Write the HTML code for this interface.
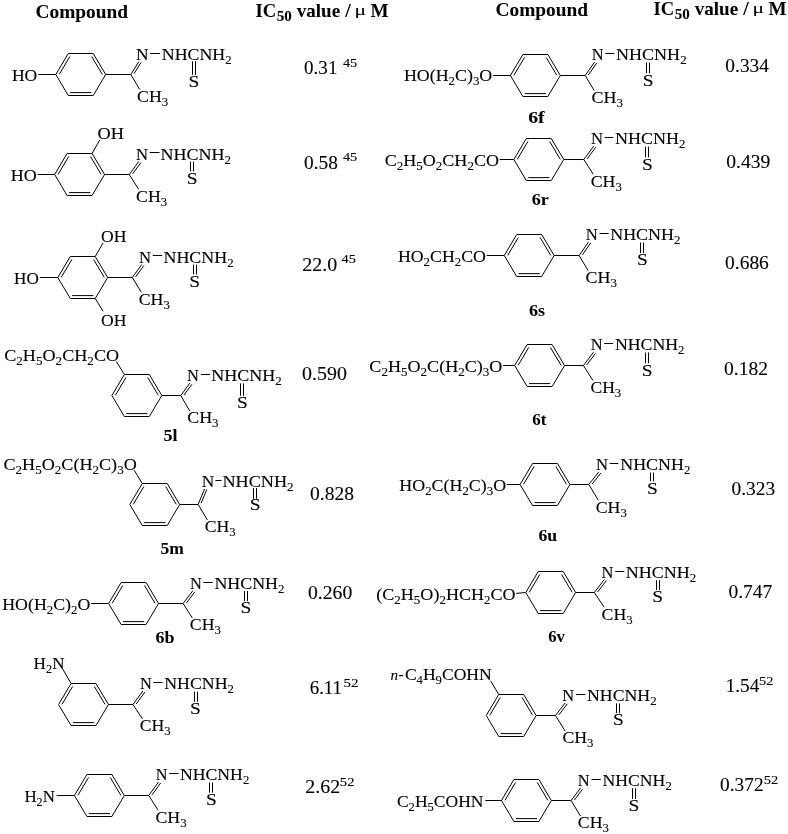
<!DOCTYPE html>
<html lang="en"><head><meta charset="utf-8"><title>IC50 table</title>
<style>
html,body{margin:0;padding:0;background:#fff}
svg{display:block;will-change:transform;opacity:0.999}
svg text{font-family:"Liberation Serif","DejaVu Serif",serif;fill:#000;white-space:pre;stroke:#000;stroke-width:0.12px;stroke-linejoin:round}
svg text[font-weight=bold]{stroke-width:0.05px}
svg line,svg polygon{stroke:#000;stroke-width:1.0;fill:none;stroke-linecap:butt;stroke-linejoin:miter}
</style></head><body>
<svg width="788" height="834" viewBox="0 0 788 834">
<text transform="translate(35.55,18.30) scale(1.0192,1)" font-size="19.00" font-weight="bold">Compound</text>
<text transform="translate(495.55,15.70) scale(1.0192,1)" font-size="19.00" font-weight="bold">Compound</text>
<text transform="translate(255.47,17.00) scale(0.9801,1)" font-size="19.00" font-weight="bold">IC</text>
<text transform="translate(276.70,21.40) scale(1.0770,1)" font-size="14.00" font-weight="bold">50</text>
<text transform="translate(296.70,17.00) scale(1.0050,1)" font-size="19.00" font-weight="bold">value</text>
<text transform="translate(345.19,17.00) scale(1.0426,1)" font-size="19.00" font-weight="bold">/</text>
<text transform="translate(354.46,15.00) scale(1.4824,1)" font-size="14.50">μ</text>
<text transform="translate(370.57,17.00) scale(1.0081,1)" font-size="19.00" font-weight="bold">M</text>
<text transform="translate(653.47,14.80) scale(0.9801,1)" font-size="19.00" font-weight="bold">IC</text>
<text transform="translate(674.70,19.20) scale(1.0770,1)" font-size="14.00" font-weight="bold">50</text>
<text transform="translate(694.70,14.80) scale(1.0050,1)" font-size="19.00" font-weight="bold">value</text>
<text transform="translate(743.19,14.80) scale(1.0426,1)" font-size="19.00" font-weight="bold">/</text>
<text transform="translate(752.46,12.80) scale(1.4824,1)" font-size="14.50">μ</text>
<text transform="translate(768.57,14.80) scale(1.0081,1)" font-size="19.00" font-weight="bold">M</text>
<polygon points="55.80,74.50 68.28,53.50 93.22,53.50 105.70,74.50 93.22,95.50 68.28,95.50"/>
<line x1="59.26" y1="74.34" x2="69.87" y2="56.49"/>
<line x1="91.63" y1="56.49" x2="102.24" y2="74.34"/>
<line x1="91.35" y1="92.60" x2="70.15" y2="92.60"/>
<line x1="105.70" y1="74.50" x2="130.80" y2="74.50"/>
<line x1="130.80" y1="74.50" x2="138.90" y2="61.60"/>
<line x1="134.02" y1="73.69" x2="141.01" y2="62.57"/>
<text transform="translate(136.00,59.60) scale(1.0147,1)" font-size="17.20">N</text>
<line x1="150.10" y1="53.50" x2="160.00" y2="53.50"/>
<text transform="translate(161.79,59.60) scale(1.0367,1)" font-size="17.20">NHCNH<tspan dy="4.04" font-size="12.38">2</tspan></text>
<line x1="192.50" y1="61.30" x2="192.50" y2="74.90"/>
<line x1="195.50" y1="61.30" x2="195.50" y2="74.90"/>
<text transform="translate(188.40,87.20) scale(1.1295,1)" font-size="17.20">S</text>
<line x1="130.80" y1="74.50" x2="139.70" y2="89.50"/>
<text transform="translate(137.07,101.80) scale(1.0313,1)" font-size="17.20">CH<tspan dy="4.04" font-size="12.38">3</tspan></text>
<text transform="translate(11.89,80.90) scale(1.0236,1)" font-size="17.20">HO</text>
<line x1="38.30" y1="74.50" x2="55.80" y2="74.50"/>
<polygon points="54.65,174.50 67.12,153.50 92.07,153.50 104.55,174.50 92.07,195.50 67.12,195.50"/>
<line x1="58.11" y1="174.34" x2="68.72" y2="156.49"/>
<line x1="90.48" y1="156.49" x2="101.09" y2="174.34"/>
<line x1="90.20" y1="192.60" x2="69.00" y2="192.60"/>
<line x1="104.55" y1="174.50" x2="129.30" y2="174.50"/>
<line x1="129.30" y1="174.50" x2="138.80" y2="161.50"/>
<line x1="132.57" y1="173.92" x2="140.83" y2="162.61"/>
<text transform="translate(135.92,159.50) scale(0.9713,1)" font-size="17.20">N</text>
<line x1="149.70" y1="152.50" x2="159.50" y2="152.50"/>
<text transform="translate(160.38,159.50) scale(1.0473,1)" font-size="17.20">NHCNH<tspan dy="4.04" font-size="12.38">2</tspan></text>
<line x1="190.50" y1="161.60" x2="190.50" y2="171.40"/>
<line x1="193.50" y1="161.60" x2="193.50" y2="171.40"/>
<text transform="translate(186.85,183.90) scale(1.1295,1)" font-size="17.20">S</text>
<line x1="129.30" y1="174.50" x2="138.70" y2="189.30"/>
<text transform="translate(136.07,201.60) scale(1.0313,1)" font-size="17.20">CH<tspan dy="4.04" font-size="12.38">3</tspan></text>
<text transform="translate(10.68,181.40) scale(1.0490,1)" font-size="17.20">HO</text>
<line x1="37.60" y1="174.50" x2="54.65" y2="174.50"/>
<line x1="92.07" y1="153.50" x2="99.80" y2="139.90"/>
<text transform="translate(97.45,139.00) scale(1.0663,1)" font-size="17.20">OH</text>
<polygon points="57.80,277.50 70.28,256.50 95.22,256.50 107.70,277.50 95.22,298.50 70.28,298.50"/>
<line x1="61.26" y1="277.34" x2="71.87" y2="259.49"/>
<line x1="93.63" y1="259.49" x2="104.24" y2="277.34"/>
<line x1="93.35" y1="295.60" x2="72.15" y2="295.60"/>
<line x1="107.70" y1="277.50" x2="132.30" y2="277.50"/>
<line x1="132.30" y1="277.50" x2="141.80" y2="264.50"/>
<line x1="135.57" y1="276.92" x2="143.83" y2="265.61"/>
<text transform="translate(138.92,262.50) scale(0.9713,1)" font-size="17.20">N</text>
<line x1="152.80" y1="255.50" x2="162.20" y2="255.50"/>
<text transform="translate(163.48,262.50) scale(1.0412,1)" font-size="17.20">NHCNH<tspan dy="4.04" font-size="12.38">2</tspan></text>
<line x1="193.50" y1="264.60" x2="193.50" y2="274.40"/>
<line x1="196.50" y1="264.60" x2="196.50" y2="274.40"/>
<text transform="translate(189.35,286.90) scale(1.1295,1)" font-size="17.20">S</text>
<line x1="132.30" y1="277.50" x2="141.30" y2="292.30"/>
<text transform="translate(138.67,304.60) scale(1.0347,1)" font-size="17.20">CH<tspan dy="4.04" font-size="12.38">3</tspan></text>
<text transform="translate(14.01,284.20) scale(0.9982,1)" font-size="17.20">HO</text>
<line x1="39.90" y1="277.50" x2="57.80" y2="277.50"/>
<line x1="95.22" y1="256.50" x2="103.10" y2="242.90"/>
<text transform="translate(100.98,242.10) scale(1.0240,1)" font-size="17.20">OH</text>
<line x1="95.22" y1="298.50" x2="103.10" y2="311.30"/>
<text transform="translate(100.98,325.90) scale(1.0240,1)" font-size="17.20">OH</text>
<polygon points="111.90,395.50 124.38,374.50 149.32,374.50 161.80,395.50 149.32,416.50 124.38,416.50"/>
<line x1="115.36" y1="395.34" x2="125.97" y2="377.49"/>
<line x1="147.73" y1="377.49" x2="158.34" y2="395.34"/>
<line x1="147.45" y1="413.60" x2="126.25" y2="413.60"/>
<line x1="161.80" y1="395.50" x2="180.80" y2="395.50"/>
<line x1="180.80" y1="395.50" x2="189.90" y2="383.10"/>
<line x1="184.07" y1="394.93" x2="191.93" y2="384.22"/>
<text transform="translate(187.03,381.10) scale(0.9539,1)" font-size="17.20">N</text>
<line x1="200.80" y1="374.50" x2="210.10" y2="374.50"/>
<text transform="translate(211.33,381.10) scale(1.0465,1)" font-size="17.20">NHCNH<tspan dy="4.04" font-size="12.38">2</tspan></text>
<line x1="240.50" y1="383.40" x2="240.50" y2="395.80"/>
<line x1="243.50" y1="383.40" x2="243.50" y2="395.80"/>
<text transform="translate(237.05,408.00) scale(1.1295,1)" font-size="17.20">S</text>
<line x1="180.80" y1="395.50" x2="189.80" y2="411.10"/>
<text transform="translate(187.16,423.40) scale(1.0451,1)" font-size="17.20">CH<tspan dy="4.04" font-size="12.38">3</tspan></text>
<line x1="124.38" y1="374.50" x2="116.40" y2="361.60"/>
<text transform="translate(4.21,360.70) scale(1.0558,1)" font-size="17.20">C<tspan dy="4.04" font-size="12.38">2</tspan><tspan dy="-4.04">H</tspan><tspan dy="4.04" font-size="12.38">5</tspan><tspan dy="-4.04">O</tspan><tspan dy="4.04" font-size="12.38">2</tspan><tspan dy="-4.04">CH</tspan><tspan dy="4.04" font-size="12.38">2</tspan><tspan dy="-4.04">CO</tspan></text>
<text transform="translate(163.38,441.20) scale(1.0191,1)" font-size="17.70" font-weight="bold">5l</text>
<polygon points="129.80,504.50 142.28,483.50 167.22,483.50 179.70,504.50 167.22,525.50 142.28,525.50"/>
<line x1="133.26" y1="504.34" x2="143.87" y2="486.49"/>
<line x1="165.63" y1="486.49" x2="176.24" y2="504.34"/>
<line x1="165.35" y1="522.60" x2="144.15" y2="522.60"/>
<line x1="179.70" y1="504.50" x2="198.10" y2="504.50"/>
<line x1="198.10" y1="504.50" x2="204.60" y2="488.90"/>
<line x1="201.15" y1="503.17" x2="206.84" y2="489.51"/>
<text transform="translate(201.70,486.90) scale(1.0060,1)" font-size="17.20">N</text>
<line x1="215.40" y1="480.50" x2="221.50" y2="480.50"/>
<text transform="translate(222.38,486.90) scale(1.0594,1)" font-size="17.20">NHCNH<tspan dy="4.04" font-size="12.38">2</tspan></text>
<line x1="253.50" y1="488.10" x2="253.50" y2="498.80"/>
<line x1="256.50" y1="488.10" x2="256.50" y2="498.80"/>
<text transform="translate(249.75,510.40) scale(1.1295,1)" font-size="17.20">S</text>
<line x1="198.10" y1="504.50" x2="207.40" y2="520.00"/>
<text transform="translate(204.77,532.30) scale(1.0278,1)" font-size="17.20">CH<tspan dy="4.04" font-size="12.38">3</tspan></text>
<line x1="142.28" y1="483.50" x2="134.20" y2="470.20"/>
<text transform="translate(3.46,469.50) scale(1.0535,1)" font-size="17.20">C<tspan dy="4.04" font-size="12.38">2</tspan><tspan dy="-4.04">H</tspan><tspan dy="4.04" font-size="12.38">5</tspan><tspan dy="-4.04">O</tspan><tspan dy="4.04" font-size="12.38">2</tspan><tspan dy="-4.04">C(H</tspan><tspan dy="4.04" font-size="12.38">2</tspan><tspan dy="-4.04">C)</tspan><tspan dy="4.04" font-size="12.38">3</tspan><tspan dy="-4.04">O</tspan></text>
<text transform="translate(160.40,554.00) scale(0.9919,1)" font-size="17.70" font-weight="bold">5m</text>
<polygon points="108.65,603.50 121.12,582.50 146.07,582.50 158.55,603.50 146.07,624.50 121.12,624.50"/>
<line x1="112.11" y1="603.34" x2="122.72" y2="585.49"/>
<line x1="144.48" y1="585.49" x2="155.09" y2="603.34"/>
<line x1="144.20" y1="621.60" x2="123.00" y2="621.60"/>
<line x1="158.55" y1="603.50" x2="183.10" y2="603.50"/>
<line x1="183.10" y1="603.50" x2="192.90" y2="590.65"/>
<line x1="186.38" y1="602.99" x2="194.91" y2="591.81"/>
<text transform="translate(190.03,588.65) scale(0.9539,1)" font-size="17.20">N</text>
<line x1="203.30" y1="582.50" x2="212.70" y2="582.50"/>
<text transform="translate(214.38,588.65) scale(1.0412,1)" font-size="17.20">NHCNH<tspan dy="4.04" font-size="12.38">2</tspan></text>
<line x1="244.50" y1="591.00" x2="244.50" y2="601.10"/>
<line x1="247.50" y1="591.00" x2="247.50" y2="601.10"/>
<text transform="translate(240.60,613.20) scale(1.1295,1)" font-size="17.20">S</text>
<line x1="183.10" y1="603.50" x2="192.40" y2="618.10"/>
<text transform="translate(189.77,630.40) scale(1.0347,1)" font-size="17.20">CH<tspan dy="4.04" font-size="12.38">3</tspan></text>
<text transform="translate(2.19,610.00) scale(1.0370,1)" font-size="17.20">HO(H<tspan dy="4.04" font-size="12.38">2</tspan><tspan dy="-4.04">C)</tspan><tspan dy="4.04" font-size="12.38">2</tspan><tspan dy="-4.04">O</tspan></text>
<line x1="90.90" y1="603.50" x2="108.65" y2="603.50"/>
<text transform="translate(155.48,642.50) scale(1.0189,1)" font-size="17.70" font-weight="bold">6b</text>
<polygon points="58.55,704.50 71.03,683.50 95.97,683.50 108.45,704.50 95.97,725.50 71.03,725.50"/>
<line x1="62.01" y1="704.34" x2="72.62" y2="686.49"/>
<line x1="94.38" y1="686.49" x2="104.99" y2="704.34"/>
<line x1="94.10" y1="722.60" x2="72.90" y2="722.60"/>
<line x1="108.45" y1="704.50" x2="132.90" y2="704.50"/>
<line x1="132.90" y1="704.50" x2="142.90" y2="691.00"/>
<line x1="136.18" y1="703.94" x2="144.93" y2="692.13"/>
<text transform="translate(140.03,689.00) scale(0.9539,1)" font-size="17.20">N</text>
<line x1="153.30" y1="682.50" x2="162.50" y2="682.50"/>
<text transform="translate(164.29,689.00) scale(1.0337,1)" font-size="17.20">NHCNH<tspan dy="4.04" font-size="12.38">2</tspan></text>
<line x1="194.50" y1="691.60" x2="194.50" y2="701.80"/>
<line x1="197.50" y1="691.60" x2="197.50" y2="701.80"/>
<text transform="translate(190.05,713.85) scale(1.1295,1)" font-size="17.20">S</text>
<line x1="132.90" y1="704.50" x2="142.40" y2="718.80"/>
<text transform="translate(139.77,731.10) scale(1.0278,1)" font-size="17.20">CH<tspan dy="4.04" font-size="12.38">3</tspan></text>
<line x1="71.03" y1="683.50" x2="62.70" y2="668.90"/>
<text transform="translate(33.61,668.70) scale(0.9952,1)" font-size="17.20">H<tspan dy="4.04" font-size="12.38">2</tspan><tspan dy="-4.04">N</tspan></text>
<polygon points="74.45,795.50 86.93,774.50 111.88,774.50 124.35,795.50 111.88,816.50 86.93,816.50"/>
<line x1="77.91" y1="795.34" x2="88.52" y2="777.49"/>
<line x1="110.28" y1="777.49" x2="120.89" y2="795.34"/>
<line x1="110.00" y1="813.60" x2="88.80" y2="813.60"/>
<line x1="124.35" y1="795.50" x2="148.75" y2="795.50"/>
<line x1="148.75" y1="795.50" x2="158.60" y2="781.90"/>
<line x1="152.02" y1="794.91" x2="160.64" y2="783.01"/>
<text transform="translate(155.73,779.90) scale(0.9409,1)" font-size="17.20">N</text>
<line x1="169.20" y1="773.50" x2="178.60" y2="773.50"/>
<text transform="translate(179.89,779.90) scale(1.0307,1)" font-size="17.20">NHCNH<tspan dy="4.04" font-size="12.38">2</tspan></text>
<line x1="209.50" y1="782.50" x2="209.50" y2="792.70"/>
<line x1="212.50" y1="782.50" x2="212.50" y2="792.70"/>
<text transform="translate(205.95,804.70) scale(1.1295,1)" font-size="17.20">S</text>
<line x1="148.75" y1="795.50" x2="158.10" y2="810.20"/>
<text transform="translate(155.47,822.50) scale(1.0347,1)" font-size="17.20">CH<tspan dy="4.04" font-size="12.38">3</tspan></text>
<text transform="translate(24.41,801.80) scale(0.9819,1)" font-size="17.20">H<tspan dy="4.04" font-size="12.38">2</tspan><tspan dy="-4.04">N</tspan></text>
<line x1="56.60" y1="795.50" x2="74.45" y2="795.50"/>
<polygon points="510.40,75.50 522.88,54.50 547.83,54.50 560.30,75.50 547.83,96.50 522.88,96.50"/>
<line x1="513.86" y1="75.34" x2="524.47" y2="57.49"/>
<line x1="546.23" y1="57.49" x2="556.84" y2="75.34"/>
<line x1="545.95" y1="93.60" x2="524.75" y2="93.60"/>
<line x1="560.30" y1="75.50" x2="585.20" y2="75.50"/>
<line x1="585.20" y1="75.50" x2="594.70" y2="61.90"/>
<line x1="588.46" y1="74.85" x2="596.76" y2="62.97"/>
<text transform="translate(591.83,59.90) scale(0.9539,1)" font-size="17.20">N</text>
<line x1="605.40" y1="53.50" x2="614.50" y2="53.50"/>
<text transform="translate(616.08,59.90) scale(1.0473,1)" font-size="17.20">NHCNH<tspan dy="4.04" font-size="12.38">2</tspan></text>
<line x1="646.50" y1="62.50" x2="646.50" y2="73.20"/>
<line x1="649.50" y1="62.50" x2="649.50" y2="73.20"/>
<text transform="translate(642.85,85.60) scale(1.1295,1)" font-size="17.20">S</text>
<line x1="585.20" y1="75.50" x2="594.20" y2="90.60"/>
<text transform="translate(591.56,102.90) scale(1.0451,1)" font-size="17.20">CH<tspan dy="4.04" font-size="12.38">3</tspan></text>
<text transform="translate(403.88,81.40) scale(1.0394,1)" font-size="17.20">HO(H<tspan dy="4.04" font-size="12.38">2</tspan><tspan dy="-4.04">C)</tspan><tspan dy="4.04" font-size="12.38">3</tspan><tspan dy="-4.04">O</tspan></text>
<line x1="493.00" y1="75.50" x2="510.40" y2="75.50"/>
<text transform="translate(528.22,123.40) scale(1.1179,1)" font-size="17.70" font-weight="bold">6f</text>
<polygon points="513.85,159.50 526.32,138.50 551.27,138.50 563.75,159.50 551.27,180.50 526.32,180.50"/>
<line x1="517.31" y1="159.34" x2="527.92" y2="141.49"/>
<line x1="549.68" y1="141.49" x2="560.29" y2="159.34"/>
<line x1="549.40" y1="177.60" x2="528.20" y2="177.60"/>
<line x1="563.75" y1="159.50" x2="583.80" y2="159.50"/>
<line x1="583.80" y1="159.50" x2="593.80" y2="146.00"/>
<line x1="587.08" y1="158.94" x2="595.83" y2="147.13"/>
<text transform="translate(590.92,144.00) scale(0.9713,1)" font-size="17.20">N</text>
<line x1="604.70" y1="137.50" x2="613.30" y2="137.50"/>
<text transform="translate(614.88,144.00) scale(1.0473,1)" font-size="17.20">NHCNH<tspan dy="4.04" font-size="12.38">2</tspan></text>
<line x1="645.50" y1="146.60" x2="645.50" y2="157.30"/>
<line x1="648.50" y1="146.60" x2="648.50" y2="157.30"/>
<text transform="translate(641.95,169.70) scale(1.1295,1)" font-size="17.20">S</text>
<line x1="583.80" y1="159.50" x2="593.30" y2="174.30"/>
<text transform="translate(590.67,186.60) scale(1.0347,1)" font-size="17.20">CH<tspan dy="4.04" font-size="12.38">3</tspan></text>
<text transform="translate(384.76,165.75) scale(1.0497,1)" font-size="17.20">C<tspan dy="4.04" font-size="12.38">2</tspan><tspan dy="-4.04">H</tspan><tspan dy="4.04" font-size="12.38">5</tspan><tspan dy="-4.04">O</tspan><tspan dy="4.04" font-size="12.38">2</tspan><tspan dy="-4.04">CH</tspan><tspan dy="4.04" font-size="12.38">2</tspan><tspan dy="-4.04">CO</tspan></text>
<line x1="499.60" y1="159.50" x2="513.85" y2="159.50"/>
<text transform="translate(531.68,204.80) scale(1.0241,1)" font-size="17.70" font-weight="bold">6r</text>
<polygon points="504.25,255.50 516.73,234.50 541.68,234.50 554.15,255.50 541.68,276.50 516.73,276.50"/>
<line x1="507.71" y1="255.34" x2="518.32" y2="237.49"/>
<line x1="540.08" y1="237.49" x2="550.69" y2="255.34"/>
<line x1="539.80" y1="273.60" x2="518.60" y2="273.60"/>
<line x1="554.15" y1="255.50" x2="579.10" y2="255.50"/>
<line x1="579.10" y1="255.50" x2="588.60" y2="241.90"/>
<line x1="582.36" y1="254.85" x2="590.66" y2="242.97"/>
<text transform="translate(585.72,239.90) scale(0.9713,1)" font-size="17.20">N</text>
<line x1="599.50" y1="233.50" x2="608.60" y2="233.50"/>
<text transform="translate(610.18,239.90) scale(1.0428,1)" font-size="17.20">NHCNH<tspan dy="4.04" font-size="12.38">2</tspan></text>
<line x1="640.50" y1="242.50" x2="640.50" y2="253.20"/>
<line x1="643.50" y1="242.50" x2="643.50" y2="253.20"/>
<text transform="translate(636.95,265.30) scale(1.1295,1)" font-size="17.20">S</text>
<line x1="579.10" y1="255.50" x2="588.10" y2="270.60"/>
<text transform="translate(585.46,282.90) scale(1.0451,1)" font-size="17.20">CH<tspan dy="4.04" font-size="12.38">3</tspan></text>
<text transform="translate(397.89,262.00) scale(1.0356,1)" font-size="17.20">HO<tspan dy="4.04" font-size="12.38">2</tspan><tspan dy="-4.04">CH</tspan><tspan dy="4.04" font-size="12.38">2</tspan><tspan dy="-4.04">CO</tspan></text>
<line x1="486.60" y1="255.50" x2="504.25" y2="255.50"/>
<text transform="translate(529.08,316.40) scale(1.0203,1)" font-size="17.70" font-weight="bold">6s</text>
<polygon points="514.65,365.50 527.12,344.50 552.08,344.50 564.55,365.50 552.08,386.50 527.12,386.50"/>
<line x1="518.11" y1="365.34" x2="528.72" y2="347.49"/>
<line x1="550.48" y1="347.49" x2="561.09" y2="365.34"/>
<line x1="550.20" y1="383.60" x2="529.00" y2="383.60"/>
<line x1="564.55" y1="365.50" x2="583.40" y2="365.50"/>
<line x1="583.40" y1="365.50" x2="593.50" y2="352.20"/>
<line x1="586.68" y1="364.98" x2="595.51" y2="353.35"/>
<text transform="translate(590.63,350.20) scale(0.9539,1)" font-size="17.20">N</text>
<line x1="604.20" y1="343.50" x2="613.10" y2="343.50"/>
<text transform="translate(614.89,350.20) scale(1.0337,1)" font-size="17.20">NHCNH<tspan dy="4.04" font-size="12.38">2</tspan></text>
<line x1="645.50" y1="352.50" x2="645.50" y2="363.20"/>
<line x1="648.50" y1="352.50" x2="648.50" y2="363.20"/>
<text transform="translate(641.65,375.60) scale(1.1295,1)" font-size="17.20">S</text>
<line x1="583.40" y1="365.50" x2="593.00" y2="380.60"/>
<text transform="translate(590.38,392.90) scale(1.0244,1)" font-size="17.20">CH<tspan dy="4.04" font-size="12.38">3</tspan></text>
<text transform="translate(369.36,371.90) scale(1.0519,1)" font-size="17.20">C<tspan dy="4.04" font-size="12.38">2</tspan><tspan dy="-4.04">H</tspan><tspan dy="4.04" font-size="12.38">5</tspan><tspan dy="-4.04">O</tspan><tspan dy="4.04" font-size="12.38">2</tspan><tspan dy="-4.04">C(H</tspan><tspan dy="4.04" font-size="12.38">2</tspan><tspan dy="-4.04">C)</tspan><tspan dy="4.04" font-size="12.38">3</tspan><tspan dy="-4.04">O</tspan></text>
<line x1="503.20" y1="365.50" x2="514.65" y2="365.50"/>
<text transform="translate(532.32,424.60) scale(0.9601,1)" font-size="17.70" font-weight="bold">6t</text>
<polygon points="520.05,484.50 532.52,463.50 557.48,463.50 569.95,484.50 557.48,505.50 532.52,505.50"/>
<line x1="523.51" y1="484.34" x2="534.12" y2="466.49"/>
<line x1="555.88" y1="466.49" x2="566.49" y2="484.34"/>
<line x1="555.60" y1="502.60" x2="534.40" y2="502.60"/>
<line x1="569.95" y1="484.50" x2="588.80" y2="484.50"/>
<line x1="588.80" y1="484.50" x2="598.80" y2="471.90"/>
<line x1="592.09" y1="484.05" x2="600.79" y2="473.09"/>
<text transform="translate(595.92,469.90) scale(0.9713,1)" font-size="17.20">N</text>
<line x1="609.70" y1="463.50" x2="618.30" y2="463.50"/>
<text transform="translate(620.23,469.90) scale(1.0420,1)" font-size="17.20">NHCNH<tspan dy="4.04" font-size="12.38">2</tspan></text>
<line x1="650.50" y1="472.50" x2="650.50" y2="481.40"/>
<line x1="653.50" y1="472.50" x2="653.50" y2="481.40"/>
<text transform="translate(646.95,493.85) scale(1.1295,1)" font-size="17.20">S</text>
<line x1="588.80" y1="484.50" x2="598.30" y2="500.20"/>
<text transform="translate(595.67,512.50) scale(1.0347,1)" font-size="17.20">CH<tspan dy="4.04" font-size="12.38">3</tspan></text>
<text transform="translate(399.28,491.30) scale(1.0418,1)" font-size="17.20">HO<tspan dy="4.04" font-size="12.38">2</tspan><tspan dy="-4.04">C(H</tspan><tspan dy="4.04" font-size="12.38">2</tspan><tspan dy="-4.04">C)</tspan><tspan dy="4.04" font-size="12.38">3</tspan><tspan dy="-4.04">O</tspan></text>
<line x1="506.80" y1="484.50" x2="520.05" y2="484.50"/>
<text transform="translate(538.50,541.40) scale(0.9992,1)" font-size="17.70" font-weight="bold">6u</text>
<polygon points="525.75,592.50 538.23,571.50 563.18,571.50 575.65,592.50 563.18,613.50 538.23,613.50"/>
<line x1="529.21" y1="592.34" x2="539.82" y2="574.49"/>
<line x1="561.58" y1="574.49" x2="572.19" y2="592.34"/>
<line x1="561.30" y1="610.60" x2="540.10" y2="610.60"/>
<line x1="575.65" y1="592.50" x2="594.30" y2="592.50"/>
<line x1="594.30" y1="592.50" x2="604.35" y2="579.50"/>
<line x1="597.59" y1="592.01" x2="606.35" y2="580.67"/>
<text transform="translate(601.48,577.50) scale(0.9583,1)" font-size="17.20">N</text>
<line x1="615.30" y1="571.50" x2="624.20" y2="571.50"/>
<text transform="translate(625.78,577.50) scale(1.0473,1)" font-size="17.20">NHCNH<tspan dy="4.04" font-size="12.38">2</tspan></text>
<line x1="656.50" y1="580.20" x2="656.50" y2="590.00"/>
<line x1="659.50" y1="580.20" x2="659.50" y2="590.00"/>
<text transform="translate(652.35,602.05) scale(1.1295,1)" font-size="17.20">S</text>
<line x1="594.30" y1="592.50" x2="604.20" y2="607.30"/>
<text transform="translate(601.57,619.60) scale(1.0330,1)" font-size="17.20">CH<tspan dy="4.04" font-size="12.38">3</tspan></text>
<text transform="translate(376.31,600.20) scale(1.0504,1)" font-size="17.20">(C<tspan dy="4.04" font-size="12.38">2</tspan><tspan dy="-4.04">H</tspan><tspan dy="4.04" font-size="12.38">5</tspan><tspan dy="-4.04">O)</tspan><tspan dy="4.04" font-size="12.38">2</tspan><tspan dy="-4.04">HCH</tspan><tspan dy="4.04" font-size="12.38">2</tspan><tspan dy="-4.04">CO</tspan></text>
<line x1="516.10" y1="593.40" x2="525.75" y2="592.50"/>
<text transform="translate(548.13,642.30) scale(0.9418,1)" font-size="17.70" font-weight="bold">6v</text>
<polygon points="486.25,715.50 498.72,694.50 523.67,694.50 536.15,715.50 523.67,736.50 498.72,736.50"/>
<line x1="489.71" y1="715.34" x2="500.32" y2="697.49"/>
<line x1="522.08" y1="697.49" x2="532.69" y2="715.34"/>
<line x1="521.80" y1="733.60" x2="500.60" y2="733.60"/>
<line x1="536.15" y1="715.50" x2="555.55" y2="715.50"/>
<line x1="555.55" y1="715.50" x2="565.20" y2="702.75"/>
<line x1="558.83" y1="714.97" x2="567.21" y2="703.90"/>
<text transform="translate(562.33,700.75) scale(0.9583,1)" font-size="17.20">N</text>
<line x1="576.20" y1="694.50" x2="585.40" y2="694.50"/>
<text transform="translate(586.99,700.75) scale(1.0337,1)" font-size="17.20">NHCNH<tspan dy="4.04" font-size="12.38">2</tspan></text>
<line x1="616.50" y1="703.40" x2="616.50" y2="713.20"/>
<line x1="619.50" y1="703.40" x2="619.50" y2="713.20"/>
<text transform="translate(613.05,725.30) scale(1.1295,1)" font-size="17.20">S</text>
<line x1="555.55" y1="715.50" x2="565.10" y2="731.10"/>
<text transform="translate(562.47,743.40) scale(1.0313,1)" font-size="17.20">CH<tspan dy="4.04" font-size="12.38">3</tspan></text>
<line x1="498.72" y1="694.50" x2="490.60" y2="680.80"/>
<text transform="translate(390.56,679.60) scale(1.0438,1)" font-size="14.50" font-style="italic">n</text>
<text transform="translate(398.43,680.20) scale(0.8953,1)" font-size="17.20">-</text>
<text transform="translate(404.88,680.20) scale(1.0213,1)" font-size="17.20">C<tspan dy="4.04" font-size="12.38">4</tspan><tspan dy="-4.04">H</tspan><tspan dy="4.04" font-size="12.38">9</tspan><tspan dy="-4.04">COHN</tspan></text>
<polygon points="501.45,800.50 513.92,779.50 538.88,779.50 551.35,800.50 538.88,821.50 513.92,821.50"/>
<line x1="504.91" y1="800.34" x2="515.52" y2="782.49"/>
<line x1="537.28" y1="782.49" x2="547.89" y2="800.34"/>
<line x1="537.00" y1="818.60" x2="515.80" y2="818.60"/>
<line x1="551.35" y1="800.50" x2="571.10" y2="800.50"/>
<line x1="571.10" y1="800.50" x2="580.60" y2="788.00"/>
<line x1="574.38" y1="799.98" x2="582.61" y2="789.15"/>
<text transform="translate(577.73,786.00) scale(0.9539,1)" font-size="17.20">N</text>
<line x1="591.50" y1="779.50" x2="600.75" y2="779.50"/>
<text transform="translate(602.59,786.00) scale(1.0276,1)" font-size="17.20">NHCNH<tspan dy="4.04" font-size="12.38">2</tspan></text>
<line x1="632.50" y1="788.30" x2="632.50" y2="799.00"/>
<line x1="635.50" y1="788.30" x2="635.50" y2="799.00"/>
<text transform="translate(628.45,811.40) scale(1.1295,1)" font-size="17.20">S</text>
<line x1="571.10" y1="800.50" x2="580.45" y2="816.00"/>
<text transform="translate(577.82,828.30) scale(1.0330,1)" font-size="17.20">CH<tspan dy="4.04" font-size="12.38">3</tspan></text>
<text transform="translate(396.88,806.90) scale(1.0189,1)" font-size="17.20">C<tspan dy="4.04" font-size="12.38">2</tspan><tspan dy="-4.04">H</tspan><tspan dy="4.04" font-size="12.38">5</tspan><tspan dy="-4.04">COHN</tspan></text>
<line x1="485.30" y1="800.50" x2="501.45" y2="800.50"/>
<text transform="translate(304.07,73.90) scale(0.9779,1)" font-size="19.50">0.31</text>
<text transform="translate(342.92,66.70) scale(1.0622,1)" font-size="13.50">45</text>
<text transform="translate(304.06,168.70) scale(0.9927,1)" font-size="19.50">0.58</text>
<text transform="translate(342.92,161.20) scale(1.0622,1)" font-size="13.50">45</text>
<text transform="translate(302.32,270.70) scale(1.0269,1)" font-size="19.50">22.0</text>
<text transform="translate(341.62,263.40) scale(1.0622,1)" font-size="13.50">45</text>
<text transform="translate(302.04,380.20) scale(1.0215,1)" font-size="19.50">0.590</text>
<text transform="translate(310.06,499.60) scale(1.0026,1)" font-size="19.50">0.828</text>
<text transform="translate(307.95,598.90) scale(1.0097,1)" font-size="19.50">0.260</text>
<text transform="translate(309.69,694.00) scale(0.9684,1)" font-size="19.50">6.11</text>
<text transform="translate(343.53,686.70) scale(1.1110,1)" font-size="13.50">52</text>
<text transform="translate(305.32,792.90) scale(1.0220,1)" font-size="19.50">2.62</text>
<text transform="translate(339.85,785.50) scale(1.0860,1)" font-size="13.50">52</text>
<text transform="translate(725.36,72.20) scale(0.9947,1)" font-size="19.50">0.334</text>
<text transform="translate(726.25,168.30) scale(1.0063,1)" font-size="19.50">0.439</text>
<text transform="translate(725.06,268.60) scale(0.9988,1)" font-size="19.50">0.686</text>
<text transform="translate(724.06,375.40) scale(1.0022,1)" font-size="19.50">0.182</text>
<text transform="translate(731.46,494.70) scale(0.9960,1)" font-size="19.50">0.323</text>
<text transform="translate(728.46,598.10) scale(1.0007,1)" font-size="19.50">0.747</text>
<text transform="translate(725.71,692.20) scale(0.9842,1)" font-size="19.50">1.54</text>
<text transform="translate(759.01,684.65) scale(1.0735,1)" font-size="13.50">52</text>
<text transform="translate(720.06,791.30) scale(0.9915,1)" font-size="19.50">0.372</text>
<text transform="translate(763.85,784.05) scale(1.0776,1)" font-size="13.50">52</text>
</svg>
</body></html>
